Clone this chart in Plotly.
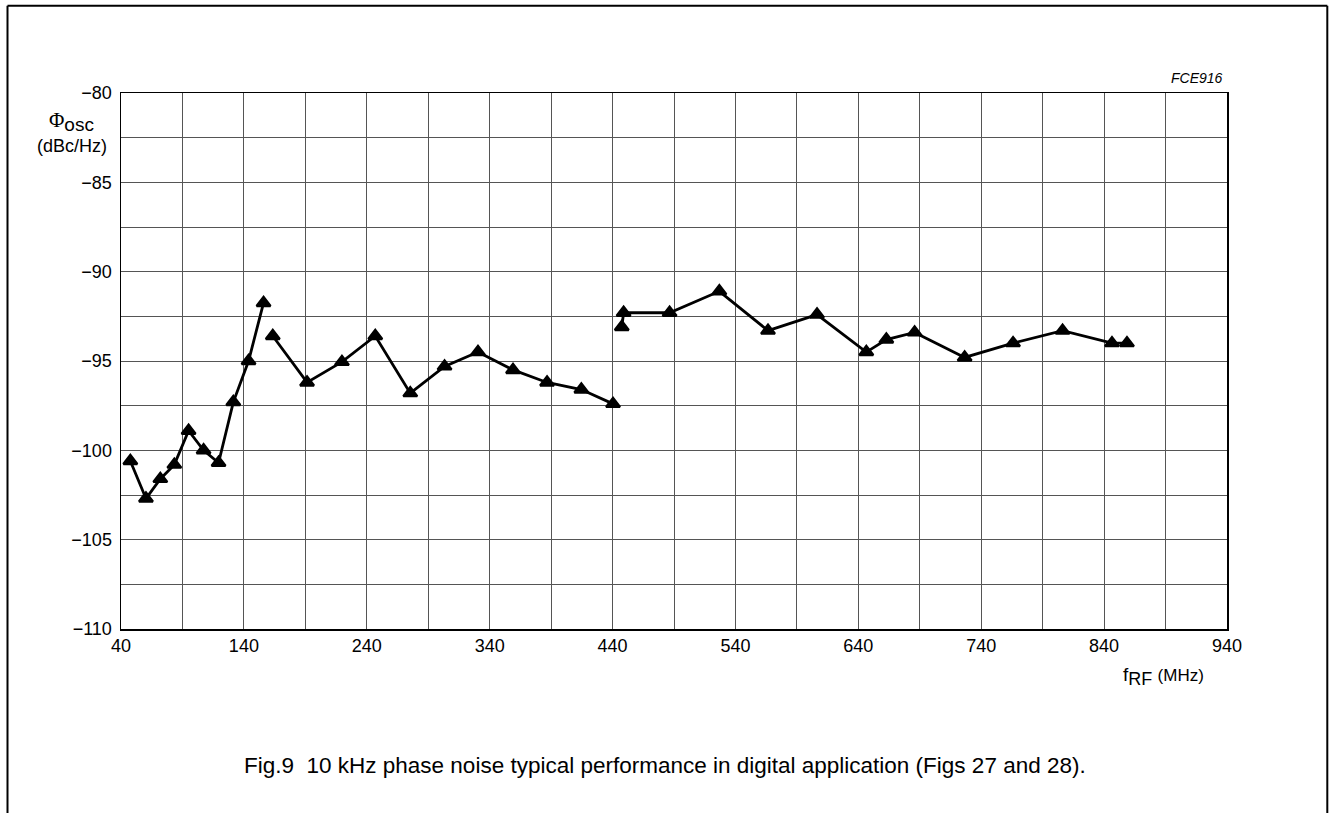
import plotly.graph_objects as go

# ---- data ----
seg1_f = [47.6, 60.3, 72.0, 83.4, 95.0, 107.2, 119.4, 131.4, 143.8, 156.0]
seg1_v = [-100.6, -102.7, -101.6, -100.8, -98.9, -100.0, -100.7, -97.3, -95.0, -91.75]

seg2_f = [163.5, 191.4, 219.8, 246.9, 275.4, 303.3, 330.5, 359.0, 386.7, 414.6, 440.4]
seg2_v = [-93.6, -96.2, -95.05, -93.6, -96.8, -95.3, -94.5, -95.5, -96.2, -96.6, -97.4]

seg3_f = [447.5, 449.0, 486.4, 526.9, 566.5, 606.4, 646.5, 662.8, 685.8, 726.5,
          765.9, 806.2, 846.4, 858.6]
seg3_v = [-93.1, -92.3, -92.3, -91.1, -93.3, -92.4, -94.5, -93.8, -93.4, -94.8,
          -94.0, -93.3, -94.0, -94.0]

x_ticks = [40, 140, 240, 340, 440, 540, 640, 740, 840, 940]
y_ticks = [-80, -85, -90, -95, -100, -105, -110]

# ---- layout geometry (page pixels; body margin removed in post_script) ----
W, H = 1329, 813
ML, MT = 121, 93
PW, PH = 1106, 536
MR = W - ML - PW
MB = H - MT - PH


def px(x):
    return (x - ML) / PW


def py(y):
    return (MT + PH - y) / PH


FONT = "Liberation Sans, Arial, sans-serif"

fig = go.Figure()
for f, v in [(seg1_f, seg1_v), (seg2_f, seg2_v), (seg3_f, seg3_v)]:
    fig.add_trace(go.Scatter(
        x=f, y=v, mode="lines+markers",
        line=dict(color="black", width=2.8),
        marker=dict(symbol="triangle-up", size=12, color="black",
                    line=dict(color="black", width=2.4)),
        showlegend=False, cliponaxis=False,
    ))

grid_col = "#555555"
fig.update_xaxes(
    range=[40, 940], tickvals=x_ticks, ticks="", showgrid=True,
    gridcolor=grid_col, gridwidth=1,
    minor=dict(tick0=40, dtick=50, showgrid=True, gridcolor=grid_col, gridwidth=1),
    showline=True, linecolor="black", linewidth=1.5, mirror=True,
    zeroline=False, tickfont=dict(size=18, color="black", family=FONT),
)
fig.update_yaxes(
    range=[-110, -80], tickvals=y_ticks, ticks="", showgrid=True,
    gridcolor=grid_col, gridwidth=1,
    minor=dict(tick0=-110, dtick=2.5, showgrid=True, gridcolor=grid_col, gridwidth=1),
    showline=True, linecolor="black", linewidth=1.5, mirror=True,
    zeroline=False, tickfont=dict(size=18, color="black", family=FONT),
    ticklabelstandoff=4,
)

annotations = [
    dict(x=px(71.5), y=py(122), xref="paper", yref="paper", xanchor="center", yanchor="middle",
         text="<span style='font-family:Liberation Serif, Times New Roman, serif;font-size:21px'>Φ</span>"
              "<sub><span style='font-size:19px'>osc</span></sub>",
         showarrow=False, font=dict(size=19, color="black", family=FONT)),
    dict(x=px(71.5), y=py(146), xref="paper", yref="paper", xanchor="center", yanchor="middle",
         text="(dBc/Hz)", showarrow=False, font=dict(size=18, color="black", family=FONT)),
    dict(x=px(1121), y=py(676), xref="paper", yref="paper", xanchor="left", yanchor="middle",
         text="f<sub><span style='font-size:18px'>RF</span></sub> <span style='font-size:17px'>(MHz)</span>",
         showarrow=False, font=dict(size=19, color="black", family=FONT)),
    dict(x=px(1225), y=py(78.5), xref="paper", yref="paper", xanchor="right", yanchor="middle",
         text="<i>FCE916</i>", showarrow=False, font=dict(size=14, color="black", family=FONT)),
    dict(x=px(664.5), y=py(765), xref="paper", yref="paper", xanchor="center", yanchor="middle",
         text="Fig.9  10 kHz phase noise typical performance in digital application (Figs 27 and 28).",
         showarrow=False, font=dict(size=22.5, color="black", family=FONT)),
]

shapes = [
    dict(type="line", xref="paper", yref="paper", x0=px(7.5), x1=px(7.5), y0=py(5.7), y1=py(830),
         line=dict(color="black", width=2)),
    dict(type="line", xref="paper", yref="paper", x0=px(7.5), x1=px(1327.3), y0=py(5.7), y1=py(5.7),
         line=dict(color="black", width=2)),
    dict(type="line", xref="paper", yref="paper", x0=px(1327.3), x1=px(1327.3), y0=py(5.7), y1=py(830),
         line=dict(color="black", width=2)),
]

fig.update_layout(
    width=W, height=H, margin=dict(l=ML, r=MR, t=MT, b=MB),
    plot_bgcolor="white", paper_bgcolor="white",
    font=dict(family=FONT, color="black"),
    annotations=annotations, shapes=shapes,
    hovermode=False,
)

fig.write_html(
    "out.html",
    config={"displayModeBar": False, "staticPlot": True},
    post_script="document.body.style.margin='0';document.body.style.overflow='hidden';",
)
